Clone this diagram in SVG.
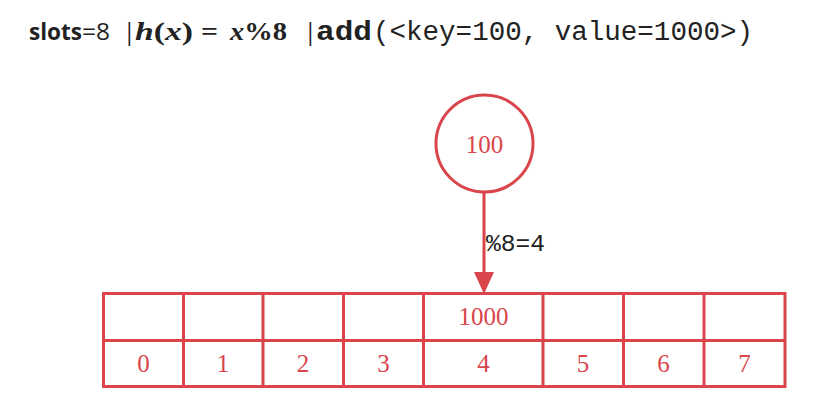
<svg xmlns="http://www.w3.org/2000/svg" width="826" height="409" viewBox="0 0 826 409">
<style>
.red{stroke:#d9454b;stroke-width:3;fill:none}
.num{font-family:"Liberation Serif",serif;font-size:25px;fill:#d9454b;text-anchor:middle}
.ttl{fill:#222}
.sans{font-family:"Open Sans","Liberation Sans",sans-serif;font-size:23px}
.math{font-family:"Liberation Serif",serif;font-size:25px;font-weight:bold}
.mono{font-family:"Liberation Mono",monospace;font-size:27px}
</style>
<rect width="826" height="409" fill="#ffffff"/>
<g id="title" class="ttl">
<text x="29" y="39.5" class="sans" font-weight="bold" textLength="53" lengthAdjust="spacingAndGlyphs">slots</text>
<text x="82" y="39.5" class="sans" textLength="28" lengthAdjust="spacingAndGlyphs">=8</text>
<text x="123" y="39.5" class="sans">|</text>
<text x="135" y="39.5" class="math" textLength="58" lengthAdjust="spacingAndGlyphs"><tspan font-style="italic">h</tspan>(<tspan font-style="italic">x</tspan>)</text>
<text x="201" y="39.5" class="math" font-weight="normal" textLength="17" lengthAdjust="spacingAndGlyphs">=</text>
<text x="230" y="39.5" class="math" textLength="57" lengthAdjust="spacingAndGlyphs"><tspan font-style="italic">x</tspan>%8</text>
<text x="304" y="39.5" class="sans">|</text>
<text x="316" y="40" class="mono" font-weight="bold" textLength="56" lengthAdjust="spacingAndGlyphs">add</text>
<text x="373" y="40" class="mono" textLength="380" lengthAdjust="spacingAndGlyphs">(&lt;key=100, value=1000&gt;)</text>
</g>
<g id="connectors">
<line x1="484" y1="192" x2="484" y2="276" class="red"/>
<polygon points="474,272 494,272 484,294" fill="#d9454b"/>
<text x="486" y="251" font-family="Liberation Mono,monospace" font-size="24" fill="#222" textLength="59" lengthAdjust="spacingAndGlyphs">%8=4</text>
</g>
<g id="key-node">
<circle cx="484.5" cy="143.5" r="48.5" class="red"/>
<text x="484.5" y="153" class="num">100</text>
</g>
<g id="table">
<rect x="103.5" y="293.5" width="681.5" height="93" class="red"/>
<line x1="103.5" y1="340.5" x2="785" y2="340.5" class="red"/>
<line x1="183.5" y1="293.5" x2="183.5" y2="386.5" class="red"/>
<line x1="263" y1="293.5" x2="263" y2="386.5" class="red"/>
<line x1="343.5" y1="293.5" x2="343.5" y2="386.5" class="red"/>
<line x1="423.5" y1="293.5" x2="423.5" y2="386.5" class="red"/>
<line x1="543" y1="293.5" x2="543" y2="386.5" class="red"/>
<line x1="623.5" y1="293.5" x2="623.5" y2="386.5" class="red"/>
<line x1="704" y1="293.5" x2="704" y2="386.5" class="red"/>
<text x="483.5" y="325" class="num">1000</text>
<text x="143.5" y="372" class="num">0</text>
<text x="223" y="372" class="num">1</text>
<text x="303" y="372" class="num">2</text>
<text x="383.5" y="372" class="num">3</text>
<text x="483.5" y="372" class="num">4</text>
<text x="583" y="372" class="num">5</text>
<text x="663.5" y="372" class="num">6</text>
<text x="744.5" y="372" class="num">7</text>
</g>
</svg>
